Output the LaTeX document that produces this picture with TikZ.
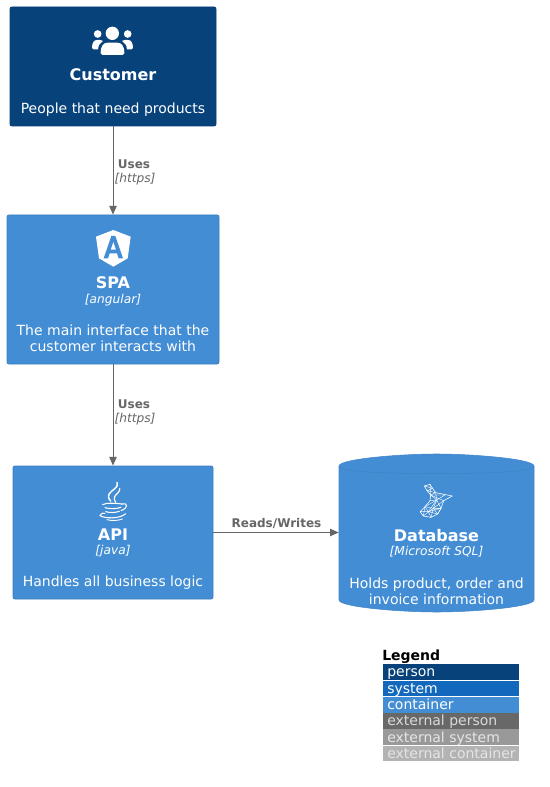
\documentclass[tikz,border=0pt]{standalone}
\usepackage{fontspec}
\setmainfont{DejaVu Sans}
\newcommand{\tA}{\fontsize{10.5pt}{12pt}\selectfont}
\newcommand{\tB}{\fontsize{12pt}{14pt}\selectfont\bfseries}
\newcommand{\tC}{\fontsize{9.15pt}{11pt}\selectfont\itshape}
\usetikzlibrary{arrows.meta}
\definecolor{cperson}{HTML}{08427B}
\definecolor{cpersonb}{HTML}{073B6F}
\definecolor{csystem}{HTML}{1168BD}
\definecolor{ccont}{HTML}{438DD5}
\definecolor{ccontb}{HTML}{3C7FC0}
\definecolor{cextp}{HTML}{686868}
\definecolor{cexts}{HTML}{999999}
\definecolor{cextc}{HTML}{B3B3B3}
\definecolor{cedge}{HTML}{666666}
\tikzset{
  box/.style={rectangle,rounded corners=1.5pt,inner sep=0,line width=0.6pt},
  personbox/.style={box,fill=cperson,draw=cpersonb},
  contbox/.style={box,fill=ccont,draw=ccontb},
  txt/.style={text=white,inner sep=0,align=center,anchor=base},
  edgelab/.style={text=cedge,inner sep=0,anchor=base},
  link/.style={draw=cedge,line width=0.75pt,-{Triangle[length=6.5pt,width=5.5pt]}},
  bar/.style={anchor=north west,inner sep=0,minimum width=102pt},
  legtxt/.style={text=#1,inner sep=0,anchor=base west,font=\tA},
  mesh/.style={draw=white,line width=0.32pt,line join=round}
}
\begin{document}
\begin{tikzpicture}[x=0.75pt,y=-0.75pt]
\useasboundingbox (0,0) rectangle (549,787);
\fill[white] (0,0) rectangle (549,787);
% boxes
\node[personbox,minimum width=154.5pt,minimum height=89.25pt] (customer) at (113,66.5) {};
\node[contbox,minimum width=159pt,minimum height=111.75pt] (spa) at (113,289.5) {};
\node[contbox,minimum width=150pt,minimum height=99.75pt] (api) at (113,532.5) {};
% database
\draw[fill=ccont,draw=ccontb!55!ccont,line width=0.4pt] (339,466) .. controls (339,459) and (400,454) .. (436.5,454) .. controls (473,454) and (534,459) .. (534,466) -- (534,600) .. controls (534,607) and (473,612) .. (436.5,612) .. controls (400,612) and (339,607) .. (339,600) -- cycle;
\draw[draw=ccontb!70!ccont,line width=0.4pt] (339,466) .. controls (339,473) and (400,473.5) .. (436.5,473.5) .. controls (473,473.5) and (534,473) .. (534,466);
\node[minimum width=146.25pt,minimum height=118.5pt,inner sep=0] (db) at (436.5,532.5) {};
% connectors
\draw[link] (customer.south) -- (spa.north);
\draw[link] (spa.south) -- (api.north);
\draw[link] (api.east) -- (db.west);
% customer text
\node[txt,font=\tB] (t1) at (113,80.5) {Customer};
\node[txt,font=\tA] (t2) at (113,113.5) {People that need products};
% spa text
\node[txt,font=\tB] (t3) at (113,289) {SPA};
\node[txt,font=\tC] (t4) at (113,304) {[angular]};
\node[txt,font=\tA] (t5) at (113,335) {The main interface that the};
\node[txt,font=\tA] (t6) at (113,351) {customer interacts with};
% api text
\node[txt,font=\tB] (t7) at (113,540) {API};
\node[txt,font=\tC] (t8) at (113,554) {[java]};
\node[txt,font=\tA] (t9) at (113,586) {Handles all business logic};
% db text
\node[txt,font=\tB] (t10) at (436.5,541) {Database};
\node[txt,font=\tC] (t11) at (436.5,555) {[Microsoft SQL]};
\node[txt,font=\tA] (t12) at (436.5,588) {Holds product, order and};
\node[txt,font=\tA] (t13) at (436.5,604) {invoice information};
% edge labels
\node[edgelab,font=\fontsize{9pt}{11pt}\selectfont\bfseries] (l1) at (134,169) {Uses};
\node[edgelab,font=\tC] (l2) at (135,183) {[https]};
\node[edgelab,font=\fontsize{9pt}{11pt}\selectfont\bfseries] (l3) at (134,408) {Uses};
\node[edgelab,font=\tC] (l4) at (135,422) {[https]};
\node[edgelab,font=\fontsize{9pt}{11pt}\selectfont\bfseries] (l5) at (276.5,527) {Reads/Writes};
% people icon
\begin{scope}[shift={(85,20)},x=0.25pt,y=-0.25pt]
  \fill[white] (82,40) circle[radius=20];
  \fill[white] (38,42) circle[radius=11.5];
  \fill[white] (128,42) circle[radius=11.5];
  \fill[white] (47,100) .. controls (47,78) and (55,68) .. (68,68) -- (97,68) .. controls (110,68) and (118,78) .. (118,100) .. controls (118,103) and (116,105) .. (113,105) -- (52,105) .. controls (49,105) and (47,103) .. (47,100) -- cycle;
  \fill[white] (21,84) .. controls (21,68) and (27,60) .. (36,60) -- (46,60) .. controls (49,60) and (52,61) .. (54,63) .. controls (45,68) and (40,76) .. (39,88) -- (25,88) .. controls (23,88) and (21,87) .. (21,84) -- cycle;
  \fill[white] (144,84) .. controls (144,68) and (138,60) .. (129,60) -- (119,60) .. controls (116,60) and (113,61) .. (111,63) .. controls (120,68) and (125,76) .. (126,88) -- (140,88) .. controls (142,88) and (144,87) .. (144,84) -- cycle;
\end{scope}
% angular icon
\begin{scope}[shift={(85,225)},x=0.25pt,y=-0.25pt]
  \fill[white] (33,35) -- (85,15) -- (137,35) -- (128,100) -- (85,125) -- (42,100) -- cycle;
  \fill[ccont,even odd rule] (79,33) -- (91,33) -- (114,100) -- (101,100) -- (96,85) -- (74,85) -- (69,100) -- (56,100) -- cycle (85,50) -- (77,74) -- (93,74) -- cycle;
\end{scope}
% java icon
\begin{scope}[shift={(85,475)},x=0.25pt,y=-0.25pt,draw=white,line cap=round]
  \draw[line width=1.1pt] (77,78) .. controls (62,62) and (75,52) .. (88,42) .. controls (97,35) and (99,28) .. (96,22);
  \draw[line width=0.9pt] (92,82) .. controls (82,68) and (92,60) .. (100,52) .. controls (104,47) and (105,44) .. (104,41);
  \draw[line width=0.8pt] (53,89) .. controls (62,83) and (92,84) .. (110,87);
  \draw[line width=0.8pt] (60,98) .. controls (72,102) and (95,102) .. (108,97);
  \draw[line width=0.8pt] (62,110) .. controls (75,114) and (92,113) .. (103,109);
  \draw[line width=0.8pt] (110,87) .. controls (128,82) and (132,98) .. (108,107);
  \draw[line width=0.8pt] (45,122) .. controls (50,112) and (58,115) .. (60,115);
  \draw[line width=0.8pt] (45,122) .. controls (60,131) and (105,132) .. (122,116);
  \draw[line width=0.7pt] (66,134) .. controls (80,138) and (100,137) .. (112,132);
\end{scope}
% sql icon
\begin{scope}[shift={(415,480)},x=0.25pt,y=-0.25pt]
  \draw[mesh,line width=0.45pt] (28,18) -- (45,13) -- (53,25) -- (62,38) -- (112,48) -- (86,62) -- (78,85) -- (68,102) -- (48,112) -- (25,108) -- (15,95) -- (30,80) -- (45,62) -- (47,45) -- (36,32) -- cycle;
  \draw[mesh] (28,18) -- (53,25) -- (36,32) -- (62,38) -- (47,45) -- (86,62);
  \draw[mesh] (45,13) -- (47,45) -- (90,45) -- (65,60) -- (62,38);
  \draw[mesh] (47,45) -- (65,60) -- (55,85) -- (30,80) -- (25,108);
  \draw[mesh] (86,62) -- (55,85) -- (78,85) -- (40,95) -- (15,95);
  \draw[mesh] (55,85) -- (48,112) -- (40,95) -- (30,80);
  \draw[mesh] (65,60) -- (40,95);
  \draw[mesh] (45,62) -- (65,60) -- (78,85) -- (68,102) -- (40,95);
  \draw[mesh] (30,80) -- (65,60);
  \draw[mesh] (25,108) -- (55,85) -- (68,102);
\end{scope}
% legend
\node[inner sep=0,anchor=base west,font=\tA\bfseries,text=black] (leg) at (382,660) {Legend};
\node[bar,fill=cperson,minimum height=11.5pt] (b1) at (383,664) {};
\node[bar,fill=csystem,minimum height=11.5pt] (b2) at (383,680.5) {};
\node[bar,fill=ccont,minimum height=11.5pt] (b3) at (383,697) {};
\node[bar,fill=cextp,minimum height=11.5pt] (b4) at (383,713) {};
\node[bar,fill=cexts,minimum height=11.5pt] (b5) at (383,729) {};
\node[bar,fill=cextc,minimum height=11.5pt] (b6) at (383,745.5) {};
\node[legtxt=white] (lt1) at (387,676) {person};
\node[legtxt=white] (lt2) at (387,693) {system};
\node[legtxt=white] (lt3) at (387,709) {container};
\node[legtxt=white!85!black] (lt4) at (387,725) {external person};
\node[legtxt=white!90!black] (lt5) at (387,742) {external system};
\node[legtxt=white!90!black] (lt6) at (387,758) {external container};
\end{tikzpicture}
\end{document}
